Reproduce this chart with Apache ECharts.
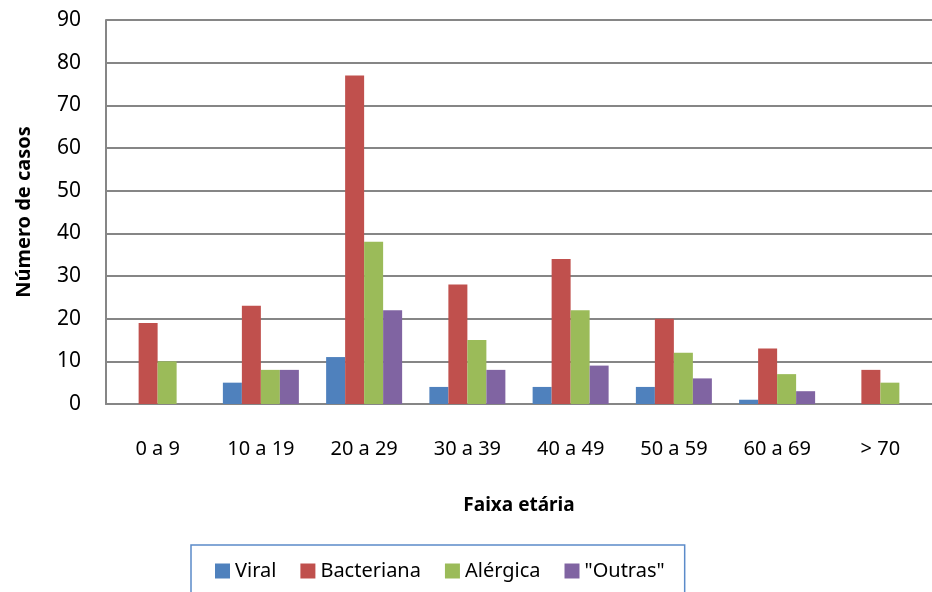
<!DOCTYPE html>
<html>
<head>
<meta charset="utf-8">
<script src="https://cdn.jsdelivr.net/npm/echarts@6/dist/echarts.min.js"></script>
<style>
  html, body { margin: 0; padding: 0; background: #fff; }
  #main { width: 932px; height: 592px; }
</style>
</head>
<body>
<div id="main"></div>
<script>
// faixas etárias (eixo x)
const categories = ['0 a 9', '10 a 19', '20 a 29', '30 a 39', '40 a 49', '50 a 59', '60 a 69', '> 70'];

// número de casos por tipo
const viral      = [0, 5, 11, 4, 4, 4, 1, 0];
const bacteriana = [19, 23, 77, 28, 34, 20, 13, 8];
const alergica   = [10, 8, 38, 15, 22, 12, 7, 5];
const outras     = [0, 8, 22, 8, 9, 6, 3, 0];

const seriesNames = ['Viral', 'Bacteriana', 'Alérgica', '"Outras"'];
const seriesColors = ['#4F81BD', '#C0504D', '#9BBB59', '#8064A2'];

const FONT = '"Noto Sans", sans-serif';

const chart = echarts.init(document.getElementById('main'));

const makeBar = (name, data, i) => ({
  name,
  type: 'bar',
  data,
  barWidth: 19,
  barGap: '0%',
  itemStyle: { color: seriesColors[i] }
});

const option = {
  animation: false,
  textStyle: { fontFamily: FONT },
  grid: { left: 106, top: 20, width: 837, height: 384, containLabel: false },
  legend: {
    left: 191,
    top: 545,
    orient: 'horizontal',
    icon: 'rect',
    itemWidth: 15,
    itemHeight: 15,
    itemGap: 24,
    padding: [16, 20, 40, 24],
    borderColor: '#5B8BC9',
    borderWidth: 1.5,
    textStyle: { fontFamily: FONT, fontSize: 20, color: '#000' },
    data: seriesNames
  },
  xAxis: {
    type: 'category',
    data: categories,
    name: 'Faixa etária',
    nameLocation: 'middle',
    nameGap: 92,
    nameTextStyle: { fontFamily: FONT, fontSize: 19, fontWeight: 'bold', color: '#000' },
    axisLine: { lineStyle: { color: '#868686', width: 2 } },
    axisTick: { show: false },
    axisLabel: { margin: 35, fontSize: 20, color: '#000', fontFamily: FONT }
  },
  yAxis: {
    type: 'value',
    min: 0,
    max: 90,
    interval: 10,
    name: 'Número de casos',
    nameLocation: 'middle',
    nameGap: 72,
    nameTextStyle: { fontFamily: FONT, fontSize: 20, fontWeight: 'bold', color: '#000' },
    axisLine: { show: true, lineStyle: { color: '#868686', width: 2 } },
    axisTick: { show: false },
    axisLabel: { margin: 25, fontSize: 21, color: '#000', fontFamily: FONT },
    splitLine: { lineStyle: { color: '#868686', width: 2 } }
  },
  series: [
    makeBar(seriesNames[0], viral, 0),
    makeBar(seriesNames[1], bacteriana, 1),
    makeBar(seriesNames[2], alergica, 2),
    makeBar(seriesNames[3], outras, 3)
  ]
};

chart.setOption(option);
</script>
</body>
</html>
